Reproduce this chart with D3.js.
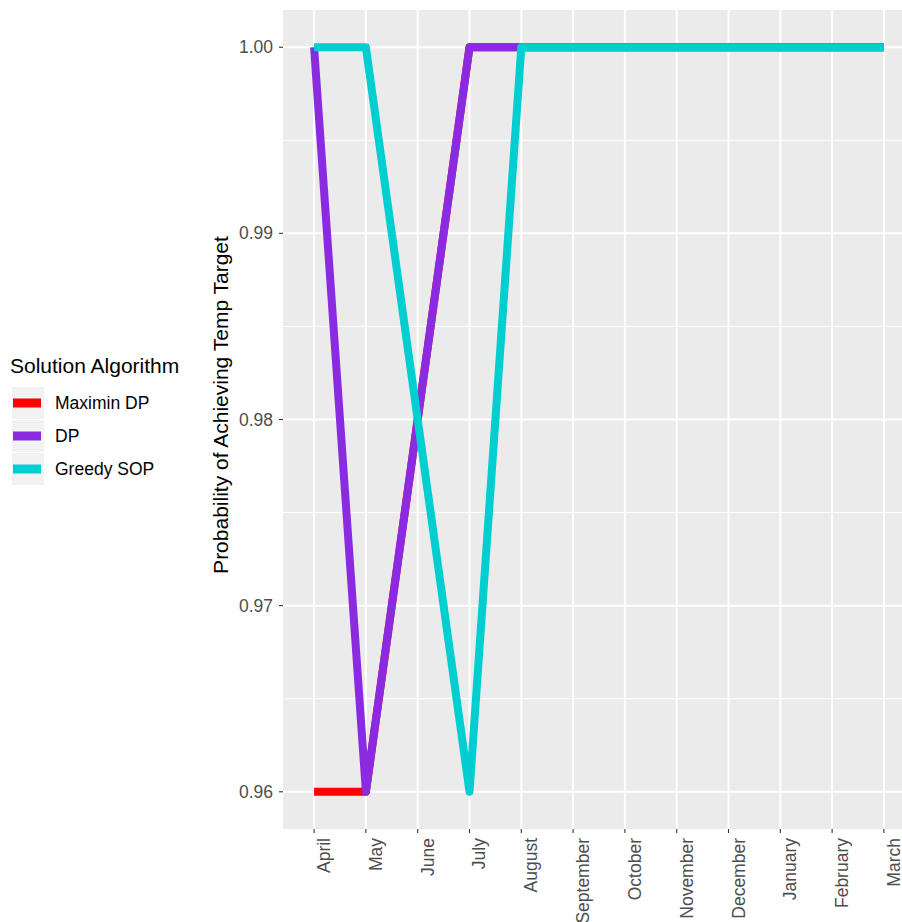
<!DOCTYPE html>
<html><head><meta charset="utf-8">
<script src="https://cdn.jsdelivr.net/npm/d3@7"></script>
<style>body{margin:0;background:#fff;} svg{display:block;font-family:"Liberation Sans",Arial,sans-serif;}</style>
</head><body>
<svg id="c" width="902" height="922"></svg>
<script>
const months = ["April","May","June","July","August","September","October","November","December","January","February","March"];
const maximinDP = [0.96,0.96,0.98,1,1,1,1,1,1,1,1,1];
const dp        = [1,0.96,0.98,1,1,1,1,1,1,1,1,1];
const greedySOP = [1,1,0.98,0.96,1,1,1,1,1,1,1,1];
const seriesNames = ["Maximin DP","DP","Greedy SOP"];
const seriesColors = ["#FF0000","#8A2BE2","#00CED1"];
const yTicks = [0.96,0.97,0.98,0.99,1.00];

const series = [maximinDP, dp, greedySOP];
const svg = d3.select("#c");
const L = 283, R = 915, T = 10, B = 829;

const x = d3.scalePoint().domain(months).range([L, R]).padding(0.6);
const y = d3.scaleLinear().domain([0.958, 1.002]).range([B, T]);

// panel
svg.append("rect").attr("x",L).attr("y",T).attr("width",R-L).attr("height",B-T).attr("fill","#EBEBEB");
// minor grid
const minor = [0.965,0.975,0.985,0.995];
svg.selectAll(".ymin").data(minor).join("line")
  .attr("x1",L).attr("x2",R).attr("y1",d=>y(d)).attr("y2",d=>y(d))
  .attr("stroke","#fff").attr("stroke-width",1);
// major grid
svg.selectAll(".ymaj").data(yTicks).join("line")
  .attr("x1",L).attr("x2",R).attr("y1",d=>y(d)).attr("y2",d=>y(d))
  .attr("stroke","#fff").attr("stroke-width",2);
svg.selectAll(".xmaj").data(months).join("line")
  .attr("y1",T).attr("y2",B).attr("x1",d=>x(d)).attr("x2",d=>x(d))
  .attr("stroke","#fff").attr("stroke-width",2);

// lines
const line = d3.line().x((d,i)=>x(months[i])).y(d=>y(d));
series.forEach((s,k)=>{
  svg.append("path").datum(s).attr("d",line).attr("fill","none")
    .attr("stroke",seriesColors[k]).attr("stroke-width",8)
    .attr("stroke-linejoin","round").attr("stroke-linecap","butt");
});

// y axis
const yAxis = svg.append("g");
yAxis.selectAll("line").data(yTicks).join("line")
  .attr("x1",L-4).attr("x2",L).attr("y1",d=>y(d)).attr("y2",d=>y(d))
  .attr("stroke","#333").attr("stroke-width",1.1);
yAxis.selectAll("text").data(yTicks).join("text")
  .attr("x",L-10).attr("y",d=>y(d)).attr("dy","0.35em")
  .attr("text-anchor","end").attr("font-size",17.5).attr("fill","#4D4D4D")
  .text(d=>d3.format(".2f")(d));

// x axis
const xAxis = svg.append("g");
xAxis.selectAll("line").data(months).join("line")
  .attr("y1",B).attr("y2",B+4).attr("x1",d=>x(d)).attr("x2",d=>x(d))
  .attr("stroke","#333").attr("stroke-width",1.1);
xAxis.selectAll("text").data(months).join("text")
  .attr("transform",d=>`translate(${x(d)+16},${B+9}) rotate(-90)`)
  .attr("text-anchor","end").attr("font-size",17.5).attr("fill","#4D4D4D")
  .text(d=>d);

// y title
svg.append("text").attr("transform",`translate(228,405) rotate(-90)`)
  .attr("text-anchor","middle").attr("font-size",21).attr("fill","#000")
  .text("Probability of Achieving Temp Target");

// legend
const lg = svg.append("g");
lg.append("text").attr("x",10).attr("y",373).attr("font-size",21).attr("fill","#000").text("Solution Algorithm");
seriesNames.forEach((n,i)=>{
  const ky = 387 + i*33;
  lg.append("rect").attr("x",12).attr("y",ky).attr("width",32).attr("height",32).attr("fill","#F2F2F2");
  lg.append("line").attr("x1",13).attr("x2",41).attr("y1",ky+16).attr("y2",ky+16)
    .attr("stroke",seriesColors[i]).attr("stroke-width",9);
  lg.append("text").attr("x",55).attr("y",ky+16).attr("dy","0.35em").attr("font-size",17.5).attr("fill","#000").text(n);
});
</script>
</body></html>
